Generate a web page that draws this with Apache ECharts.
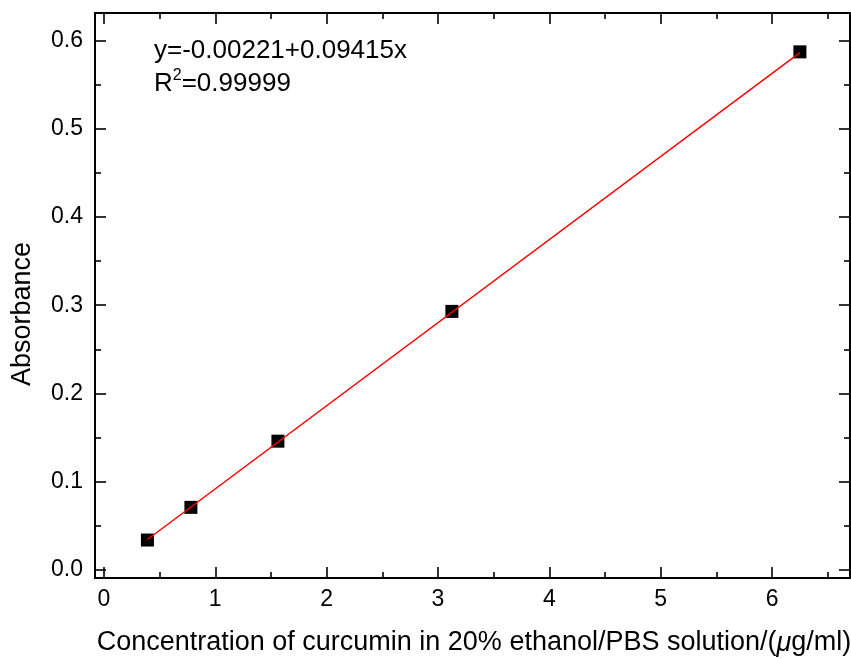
<!DOCTYPE html>
<html lang="en">
<head>
    <meta charset="UTF-8">
    <title>Absorbance</title>
    <script type="text/javascript" src="https://cdn.jsdelivr.net/npm/echarts@6/dist/echarts.min.js"></script>
    <style>
        html, body { margin: 0; padding: 0; background: #fff; }
        #chart { width: 851px; height: 659px; }
    </style>
</head>
<body>
<div id="chart"></div>
<script type="text/javascript">
    // measured points
    var concX = [0.390625, 0.78125, 1.5625, 3.125, 6.25];
    var absY = [0.034, 0.071, 0.146, 0.293, 0.587];
    // fitted line ends
    var fitX = [0.390625, 6.25];
    var fitY = [0.0346, 0.5862];
    // ticks
    var xTicks = [0, 1, 2, 3, 4, 5, 6];
    var xMinor = [0.5, 1.5, 2.5, 3.5, 4.5, 5.5, 6.5];
    var yTicks = [0, 0.1, 0.2, 0.3, 0.4, 0.5, 0.6];
    var yMinor = [0.05, 0.15, 0.25, 0.35, 0.45, 0.55];

    var font = 'Liberation Sans, Arial, sans-serif';
    var xMin = -0.08, xMax = 6.7, yMin = -0.009, yMax = 0.631;

    function pairs(xs, ys) {
        var out = [];
        for (var i = 0; i < xs.length; i++) out.push([xs[i], ys[i]]);
        return out;
    }

    // one axis def, major or minor, with or without labels
    function axis(dim, grid, pos, ticks, len, labels) {
        var a = {
            type: 'value',
            gridIndex: grid,
            position: pos,
            min: dim === 'x' ? xMin : yMin,
            max: dim === 'x' ? xMax : yMax,
            splitLine: {show: false},
            axisLine: {show: grid === 0, onZero: false, lineStyle: {color: '#000', width: 2}},
            axisTick: {show: true, inside: true, length: len, customValues: ticks,
                lineStyle: {color: '#000', width: 1.6}},
            axisLabel: {show: false}
        };
        if (labels) {
            a.axisLabel = {
                show: true,
                customValues: ticks,
                color: '#000',
                fontFamily: font,
                fontSize: 23,
                margin: dim === 'x' ? 10 : 12,
                formatter: function (v) {
                    return dim === 'x' ? String(Math.round(v)) : v.toFixed(1);
                }
            };
        }
        return a;
    }

    var myChart = echarts.init(document.getElementById('chart'));
    var g = {left: 95, right: 1, top: 13, bottom: 81};

    var option = {
        backgroundColor: '#fff',
        animation: false,
        grid: [
            Object.assign({}, g),
            Object.assign({}, g)
        ],
        xAxis: [
            axis('x', 0, 'bottom', xTicks, 11, true),
            axis('x', 0, 'top', xTicks, 11, false),
            axis('x', 1, 'bottom', xMinor, 6, false),
            axis('x', 1, 'top', xMinor, 6, false)
        ],
        yAxis: [
            axis('y', 0, 'left', yTicks, 11, true),
            axis('y', 0, 'right', yTicks, 11, false),
            axis('y', 1, 'left', yMinor, 6, false),
            axis('y', 1, 'right', yMinor, 6, false)
        ],
        series: [
            {
                type: 'scatter',
                xAxisIndex: 0,
                yAxisIndex: 0,
                symbol: 'rect',
                symbolSize: 13,
                itemStyle: {color: '#000', opacity: 1},
                data: pairs(concX, absY),
                z: 2
            },
            {
                type: 'line',
                xAxisIndex: 0,
                yAxisIndex: 0,
                showSymbol: false,
                symbol: 'none',
                lineStyle: {color: '#ff0000', width: 1.5},
                data: pairs(fitX, fitY),
                z: 3
            }
        ],
        graphic: [
            {
                type: 'text',
                left: 154,
                top: 38,
                style: {
                    text: '{a|y=-0.00221+0.09415x}\n{a|R}{s|2}{a|=0.99999}',
                    fill: '#000',
                    rich: {
                        a: {fontFamily: font, fontSize: 26, lineHeight: 33, fill: '#000'},
                        s: {fontFamily: font, fontSize: 16, lineHeight: 33, fill: '#000', verticalAlign: 'top', padding: [0, 0, 8, 0]}
                    }
                }
            },
            {
                type: 'text',
                x: 474,
                y: 643,
                style: {
                    text: '{a|Concentration of curcumin in 20% ethanol/PBS solution/(}{i|μ}{a|g/ml)}',
                    align: 'center',
                    verticalAlign: 'middle',
                    rich: {
                        a: {fontFamily: font, fontSize: 27, fill: '#000'},
                        i: {fontFamily: font, fontSize: 27, fontStyle: 'italic', fill: '#000'}
                    }
                }
            },
            {
                type: 'text',
                x: 23,
                y: 314,
                rotation: Math.PI / 2,
                style: {
                    text: 'Absorbance',
                    fontFamily: font,
                    fontSize: 27,
                    fill: '#000',
                    align: 'center',
                    verticalAlign: 'middle'
                }
            }
        ]
    };
    myChart.setOption(option);
</script>
</body>
</html>
